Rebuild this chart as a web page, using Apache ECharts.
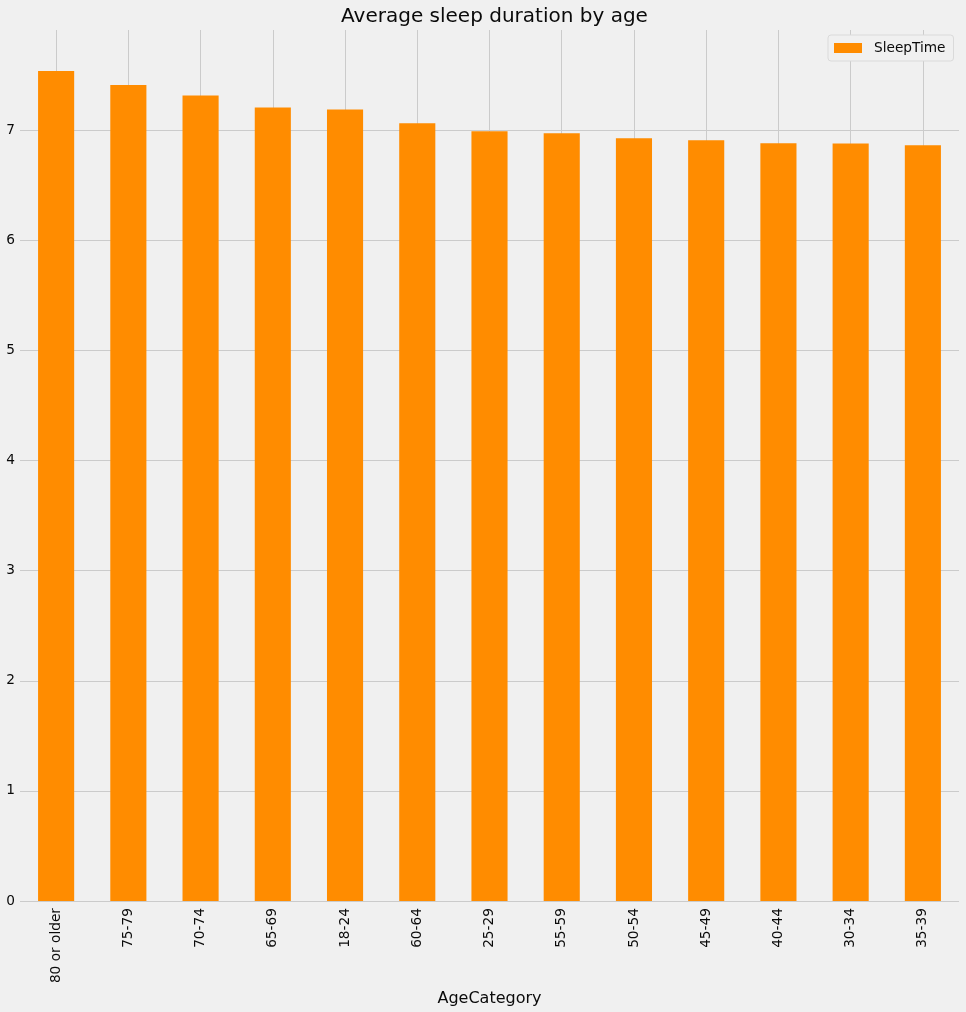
<!DOCTYPE html>
<html>
<head>
<meta charset="utf-8">
<script src="https://cdn.jsdelivr.net/npm/echarts@6/dist/echarts.min.js"></script>
<style>
html,body{margin:0;padding:0;background:#f0f0f0;}
#chart{width:966px;height:1012px;}
</style>
</head>
<body>
<div id="chart"></div>
<script>
const categories = ['80 or older','75-79','70-74','65-69','18-24','60-64','25-29','55-59','50-54','45-49','40-44','30-34','35-39'];
const sleepTime = [7.537, 7.41, 7.316, 7.207, 7.189, 7.063, 6.99, 6.972, 6.927, 6.909, 6.882, 6.880, 6.864];
const yTicks = [0,1,2,3,4,5,6,7];

const font = 'DejaVu Sans';
const txt = '#0a0a0a';
const chart = echarts.init(document.getElementById('chart'), null, {renderer:'canvas'});
chart.setOption({
  backgroundColor: '#f0f0f0',
  animation: false,
  title: {
    text: 'Average sleep duration by age',
    left: 489.5, top: 2, textAlign: 'center',
    textStyle: {fontFamily: font, fontSize: 20, fontWeight: 'normal', color: txt}
  },
  legend: {
    data: ['SleepTime'],
    left: 828, top: 35,
    padding: [6, 8, 6, 6],
    itemWidth: 28, itemHeight: 10,
    backgroundColor: '#f0f0f0',
    borderColor: '#dadada', borderWidth: 1, borderRadius: 3,
    icon: 'rect',
    textStyle: {fontFamily: font, fontSize: 13.7, color: txt, padding: [0,0,0,7]}
  },
  grid: {left: 20, right: 7, top: 30, bottom: 110, containLabel: false},
  xAxis: {
    type: 'category',
    data: categories,
    name: 'AgeCategory',
    nameLocation: 'middle',
    nameGap: 82,
    nameTextStyle: {fontFamily: font, fontSize: 16, color: txt},
    axisLine: {show: false},
    axisTick: {show: false},
    axisLabel: {rotate: 90, margin: 7, fontFamily: font, fontSize: 13.7, color: txt, interval: 0},
    splitLine: {show: true, alignWithLabel: true, lineStyle: {color: '#cbcbcb', width: 1}}
  },
  yAxis: {
    type: 'value',
    min: 0, max: 7.91, interval: 1,
    axisLine: {show: false},
    axisTick: {show: false},
    axisLabel: {
      margin: 5, fontFamily: font, fontSize: 13.7, color: txt,
      showMaxLabel: false,
      formatter: v => yTicks.includes(v) ? String(v) : ''
    },
    splitLine: {show: true, showMaxLine: false, lineStyle: {color: '#cbcbcb', width: 1}}
  },
  series: [{
    name: 'SleepTime',
    type: 'bar',
    data: sleepTime,
    barWidth: '50%',
    itemStyle: {color: '#ff8c00'}
  }]
});
</script>
</body>
</html>
